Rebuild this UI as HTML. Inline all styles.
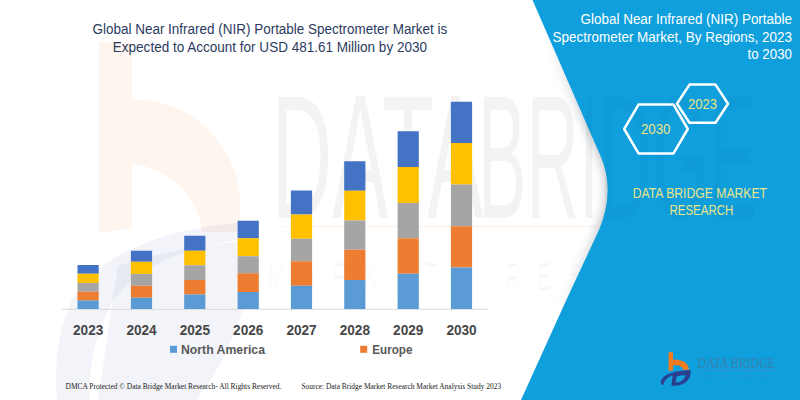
<!DOCTYPE html>
<html><head><meta charset="utf-8">
<style>
html,body{margin:0;padding:0;background:#fff;}
body{width:800px;height:400px;overflow:hidden;position:relative;font-family:"Liberation Sans",sans-serif;}
svg{position:absolute;left:0;top:0;display:block;}
text{font-family:"Liberation Sans",sans-serif;}
.serif{font-family:"Liberation Serif",serif;}
.yr{font-size:14px;font-weight:bold;fill:#474747;}
.ttl{font-size:14px;fill:#2b3b5f;}
.rt{font-size:14px;fill:#ffffff;}
.lg{font-size:13px;font-weight:bold;fill:#595959;}
.ft{font-size:8px;fill:#1a1a1a;}
.yl{font-size:14px;fill:#ece586;}
</style></head>
<body>
<svg width="800" height="400" viewBox="0 0 800 400">
<defs>
<filter id="sh" x="-20%" y="-20%" width="140%" height="140%"><feGaussianBlur stdDeviation="5"/></filter>
<linearGradient id="shg" x1="0" y1="0" x2="0" y2="400" gradientUnits="userSpaceOnUse"><stop offset="0.08" stop-color="#000"/><stop offset="0.32" stop-color="#fff"/><stop offset="0.56" stop-color="#fff"/><stop offset="0.78" stop-color="#000"/></linearGradient>
<mask id="shm" maskUnits="userSpaceOnUse" x="0" y="0" width="800" height="400"><rect width="800" height="400" fill="url(#shg)"/></mask>

</defs>
<rect width="800" height="400" fill="#ffffff"/>

<!-- watermark text -->
<g fill="#000000" fill-opacity="0.024">
<text x="271.5" y="218" font-size="176" textLength="212" lengthAdjust="spacingAndGlyphs">DATA</text>
<text x="478" y="218" font-size="176" textLength="279" lengthAdjust="spacingAndGlyphs">BRIDGE</text>
</g>
<rect x="283" y="226" width="330" height="1.2" fill="#fef0e6"/>
<g fill="#000000" fill-opacity="0.026" font-size="38">
<text x="268" y="290" transform="translate(268,0) scale(0.55,1) translate(-268,0)" style="letter-spacing:30px">MARKET</text>
<text x="506" y="290" transform="translate(506,0) scale(0.55,1) translate(-506,0)" style="letter-spacing:30px">RESEARCH</text>
</g>
<!-- watermark logo -->
<path d="M99,42 L132,42 L132,100 C165,98 215,115 236,175 C241,195 241,215 240,232 L202,232 C200,205 180,172 132,163 L132,228 L99,233 Z" fill="#f47b20" opacity="0.08"/>
<path d="M252,222 C175,226 100,250 72,300 C58,330 54,365 57,400 L90,400 C88,365 96,330 114,300 C140,264 190,246 250,238 Z" fill="#2a3f8e" opacity="0.055"/>
<path d="M118,266 C150,254 200,246 251,240 C254,290 235,350 196,400 L98,400 Z" fill="#2a3f8e" opacity="0.055"/>
<!-- blue panel shadow -->
<g mask="url(#shm)"><path d="M532.5,0 L600.5,156 Q615.5,190 599,230 L566.3,300 L521,400 L800,400 L800,0 Z" fill="#8f99a3" opacity="0.5" filter="url(#sh)" transform="translate(-3,0)"/></g>
<path d="M532.5,0 L600.5,156 Q615.5,190 599,230 L566.3,300 L521,400 L800,400 L800,0 Z" fill="#0f9fdd"/>

<!-- watermark text -->
<g fill="#000000" fill-opacity="0.022">
<text x="271.5" y="218" font-size="176" textLength="212" lengthAdjust="spacingAndGlyphs">DATA</text>
<text x="478" y="218" font-size="176" textLength="279" lengthAdjust="spacingAndGlyphs">BRIDGE</text>
</g>
<g fill="#000000" fill-opacity="0.022" font-size="38">
<text x="268" y="290" transform="translate(268,0) scale(0.55,1) translate(-268,0)" style="letter-spacing:30px">MARKET</text>
<text x="506" y="290" transform="translate(506,0) scale(0.55,1) translate(-506,0)" style="letter-spacing:30px">RESEARCH</text>
</g>
<!-- axis -->
<rect x="62" y="308.8" width="426" height="1" fill="#d9d9d9"/>
<!-- bars -->
<rect x="77.50" y="265.00" width="21.2" height="8.75" fill="#4472c4"/>
<rect x="77.50" y="273.75" width="21.2" height="9.25" fill="#ffc000"/>
<rect x="77.50" y="283.00" width="21.2" height="8.75" fill="#a5a5a5"/>
<rect x="77.50" y="291.75" width="21.2" height="8.75" fill="#ed7d31"/>
<rect x="77.50" y="300.50" width="21.2" height="8.50" fill="#5b9bd5"/>
<rect x="130.90" y="250.75" width="21.2" height="11.00" fill="#4472c4"/>
<rect x="130.90" y="261.75" width="21.2" height="12.25" fill="#ffc000"/>
<rect x="130.90" y="274.00" width="21.2" height="11.75" fill="#a5a5a5"/>
<rect x="130.90" y="285.75" width="21.2" height="12.00" fill="#ed7d31"/>
<rect x="130.90" y="297.75" width="21.2" height="11.25" fill="#5b9bd5"/>
<rect x="184.20" y="235.75" width="21.2" height="15.00" fill="#4472c4"/>
<rect x="184.20" y="250.75" width="21.2" height="14.50" fill="#ffc000"/>
<rect x="184.20" y="265.25" width="21.2" height="14.75" fill="#a5a5a5"/>
<rect x="184.20" y="280.00" width="21.2" height="14.50" fill="#ed7d31"/>
<rect x="184.20" y="294.50" width="21.2" height="14.50" fill="#5b9bd5"/>
<rect x="237.60" y="220.75" width="21.2" height="17.50" fill="#4472c4"/>
<rect x="237.60" y="238.25" width="21.2" height="18.00" fill="#ffc000"/>
<rect x="237.60" y="256.25" width="21.2" height="17.00" fill="#a5a5a5"/>
<rect x="237.60" y="273.25" width="21.2" height="18.75" fill="#ed7d31"/>
<rect x="237.60" y="292.00" width="21.2" height="17.00" fill="#5b9bd5"/>
<rect x="290.90" y="190.50" width="21.2" height="24.00" fill="#4472c4"/>
<rect x="290.90" y="214.50" width="21.2" height="24.25" fill="#ffc000"/>
<rect x="290.90" y="238.75" width="21.2" height="22.50" fill="#a5a5a5"/>
<rect x="290.90" y="261.25" width="21.2" height="24.50" fill="#ed7d31"/>
<rect x="290.90" y="285.75" width="21.2" height="23.25" fill="#5b9bd5"/>
<rect x="344.20" y="161.25" width="21.2" height="29.50" fill="#4472c4"/>
<rect x="344.20" y="190.75" width="21.2" height="29.75" fill="#ffc000"/>
<rect x="344.20" y="220.50" width="21.2" height="29.25" fill="#a5a5a5"/>
<rect x="344.20" y="249.75" width="21.2" height="30.25" fill="#ed7d31"/>
<rect x="344.20" y="280.00" width="21.2" height="29.00" fill="#5b9bd5"/>
<rect x="397.60" y="131.25" width="21.2" height="35.75" fill="#4472c4"/>
<rect x="397.60" y="167.00" width="21.2" height="36.00" fill="#ffc000"/>
<rect x="397.60" y="203.00" width="21.2" height="35.25" fill="#a5a5a5"/>
<rect x="397.60" y="238.25" width="21.2" height="35.50" fill="#ed7d31"/>
<rect x="397.60" y="273.75" width="21.2" height="35.25" fill="#5b9bd5"/>
<rect x="450.90" y="101.75" width="21.2" height="41.25" fill="#4472c4"/>
<rect x="450.90" y="143.00" width="21.2" height="41.50" fill="#ffc000"/>
<rect x="450.90" y="184.50" width="21.2" height="41.75" fill="#a5a5a5"/>
<rect x="450.90" y="226.25" width="21.2" height="41.25" fill="#ed7d31"/>
<rect x="450.90" y="267.50" width="21.2" height="41.50" fill="#5b9bd5"/>
<!-- year labels -->
<text x="73.00" y="334.8" textLength="30.3" lengthAdjust="spacingAndGlyphs" class="yr">2023</text>
<text x="126.40" y="334.8" textLength="30.3" lengthAdjust="spacingAndGlyphs" class="yr">2024</text>
<text x="179.70" y="334.8" textLength="30.3" lengthAdjust="spacingAndGlyphs" class="yr">2025</text>
<text x="233.10" y="334.8" textLength="30.3" lengthAdjust="spacingAndGlyphs" class="yr">2026</text>
<text x="286.40" y="334.8" textLength="30.3" lengthAdjust="spacingAndGlyphs" class="yr">2027</text>
<text x="339.70" y="334.8" textLength="30.3" lengthAdjust="spacingAndGlyphs" class="yr">2028</text>
<text x="393.10" y="334.8" textLength="30.3" lengthAdjust="spacingAndGlyphs" class="yr">2029</text>
<text x="446.40" y="334.8" textLength="30.3" lengthAdjust="spacingAndGlyphs" class="yr">2030</text>

<!-- legend -->
<rect x="170" y="345.8" width="7" height="7" fill="#5b9bd5"/>
<text x="181" y="353.6" textLength="84" lengthAdjust="spacingAndGlyphs" class="lg">North America</text>
<rect x="360.2" y="345.8" width="7" height="7" fill="#ed7d31"/>
<text x="372.3" y="353.6" textLength="40.2" lengthAdjust="spacingAndGlyphs" class="lg">Europe</text>

<!-- title -->
<text x="92.5" y="34.2" textLength="354.8" lengthAdjust="spacingAndGlyphs" class="ttl">Global Near Infrared (NIR) Portable Spectrometer Market is</text>
<text x="112.8" y="51.7" textLength="314.2" lengthAdjust="spacingAndGlyphs" class="ttl">Expected to Account for USD 481.61 Million by 2030</text>

<!-- right text -->
<text x="580.6" y="24.0" textLength="211.4" lengthAdjust="spacingAndGlyphs" class="rt">Global Near Infrared (NIR) Portable</text>
<text x="552.6" y="41.6" textLength="239.4" lengthAdjust="spacingAndGlyphs" class="rt">Spectrometer Market, By Regions, 2023</text>
<text x="747.5" y="59.2" textLength="44.5" lengthAdjust="spacingAndGlyphs" class="rt">to 2030</text>

<!-- hexagons -->
<polygon points="677,103.7 689.5,84.6 715.5,84.6 728,103.7 715.5,122.8 689.5,122.8" fill="none" stroke="#ffffff" stroke-width="2.5" stroke-linejoin="round"/>
<polygon points="624.2,129 638.5,104.6 673.5,104.6 687.8,129 673.5,153.4 638.5,153.4" fill="none" stroke="#ffffff" stroke-width="2.5" stroke-linejoin="round"/>
<text x="688" y="108.7" textLength="29" lengthAdjust="spacingAndGlyphs" class="yl">2023</text>
<text x="641" y="133.8" textLength="29.4" lengthAdjust="spacingAndGlyphs" class="yl">2030</text>

<!-- DBMR yellow -->
<text x="632.8" y="197.6" textLength="134.2" lengthAdjust="spacingAndGlyphs" class="yl">DATA BRIDGE MARKET</text>
<text x="669.5" y="215.1" textLength="63.8" lengthAdjust="spacingAndGlyphs" class="yl">RESEARCH</text>

<!-- footer -->
<text x="65.6" y="388.6" textLength="215.8" lengthAdjust="spacingAndGlyphs" class="ft serif">DMCA Protected © Data Bridge Market Research-  All Rights Reserved.</text>
<text x="301.4" y="388.6" textLength="199.8" lengthAdjust="spacingAndGlyphs" class="ft serif">Source: Data Bridge Market Research  Market Analysis Study 2023</text>

<!-- logo -->
<g transform="translate(655,352.3)">
  <!-- orange b -->
  <path d="M13.5,0 L18,0 L18,7.2 C26.5,6.8 33.4,10.4 34,17.2 L28.4,17.6 C27.8,14.2 23.5,12.6 18,13 L18,18 L13.5,18.8 Z" fill="#f47b20"/>
  <!-- navy swoosh + D -->
  <path d="M5.9,31.6 C5.5,24 14,19 35.6,17.8 C36.8,25.5 31,33.3 20,33.5 L16.4,33.5 L17.6,23.2 C13,24.6 9.5,27.6 8.4,32.6 Z M21.6,24.2 L20.8,30.2 C26,30.2 29.8,27 30.4,23 C27,23 24,23.5 21.6,24.2 Z" fill="#2a3f8e" fill-rule="evenodd"/>
</g>
<text x="697.6" y="367.8" textLength="77.5" lengthAdjust="spacingAndGlyphs" class="serif" font-size="15" fill="#3a7fae">DATA BRIDGE</text>
<rect x="697.6" y="369.8" width="77.5" height="0.8" fill="#3c8fc4"/>
<text x="698" y="377.8" textLength="76" lengthAdjust="spacing" font-size="4.6" fill="#2692cc">MARKET RESEARCH</text>
</svg>
</body></html>
